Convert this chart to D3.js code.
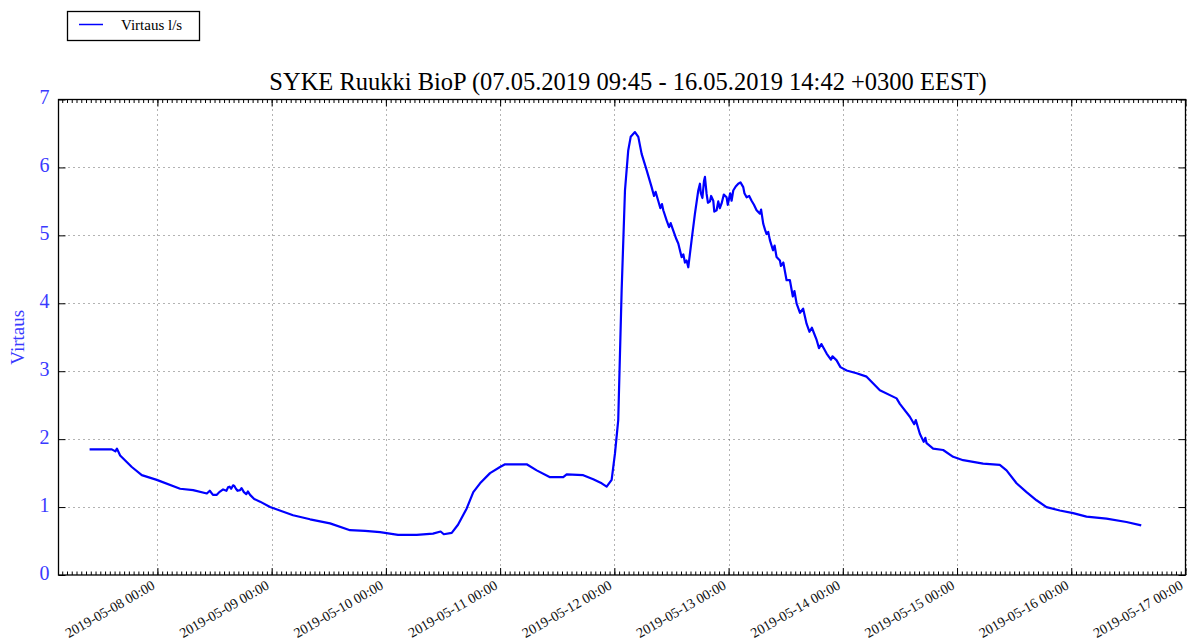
<!DOCTYPE html>
<html>
<head>
<meta charset="utf-8">
<script src="https://cdn.jsdelivr.net/npm/d3@7"></script>
<style>
  html, body { margin: 0; padding: 0; background: #fff; }
  svg { display: block; }
  text { font-family: "Liberation Serif", "DejaVu Serif", serif; }
</style>
</head>
<body>
<svg id="chart" width="1187" height="640"></svg>
<script>
// Flow measurements, SYKE Ruukki BioP station (local time, EEST)
const stamps = [
  "2019-05-07 09:45","2019-05-07 14:25","2019-05-07 15:10","2019-05-07 15:30","2019-05-07 16:10",
  "2019-05-07 18:37","2019-05-07 20:43","2019-05-07 23:52","2019-05-08 04:46","2019-05-08 07:30",
  "2019-05-08 10:23","2019-05-08 11:00","2019-05-08 11:40","2019-05-08 12:29","2019-05-08 13:00",
  "2019-05-08 13:48","2019-05-08 14:30","2019-05-08 14:50","2019-05-08 15:10","2019-05-08 15:30",
  "2019-05-08 15:54","2019-05-08 16:10","2019-05-08 16:30","2019-05-08 16:50","2019-05-08 17:22",
  "2019-05-08 17:40","2019-05-08 18:10","2019-05-08 18:40","2019-05-08 19:00","2019-05-08 19:28",
  "2019-05-08 20:20","2019-05-08 21:34","2019-05-08 23:40","2019-05-09 04:30","2019-05-09 08:04",
  "2019-05-09 12:16","2019-05-09 16:28","2019-05-09 19:37","2019-05-09 22:46","2019-05-10 02:33",
  "2019-05-10 06:29","2019-05-10 09:54","2019-05-10 11:30","2019-05-10 12:10","2019-05-10 13:50",
  "2019-05-10 15:09","2019-05-10 16:59","2019-05-10 18:22","2019-05-10 19:47","2019-05-10 21:53",
  "2019-05-10 23:59","2019-05-11 01:02","2019-05-11 05:35","2019-05-11 07:41","2019-05-11 10:29",
  "2019-05-11 13:16","2019-05-11 13:59","2019-05-11 17:28","2019-05-11 19:34","2019-05-11 21:20",
  "2019-05-11 22:23","2019-05-11 23:26","2019-05-12 00:08","2019-05-12 00:49","2019-05-12 01:32",
  "2019-05-12 02:14","2019-05-12 02:55","2019-05-12 03:26","2019-05-12 04:20","2019-05-12 05:02",
  "2019-05-12 05:44","2019-05-12 06:47","2019-05-12 07:50","2019-05-12 08:20","2019-05-12 08:40",
  "2019-05-12 09:13","2019-05-12 09:40","2019-05-12 10:00","2019-05-12 10:17","2019-05-12 10:59",
  "2019-05-12 11:30","2019-05-12 11:50","2019-05-12 12:23","2019-05-12 13:00","2019-05-12 13:26",
  "2019-05-12 14:08","2019-05-12 14:30","2019-05-12 14:50","2019-05-12 15:11","2019-05-12 15:32",
  "2019-05-12 16:14","2019-05-12 16:56","2019-05-12 17:38","2019-05-12 17:59","2019-05-12 18:10",
  "2019-05-12 18:30","2019-05-12 18:50","2019-05-12 19:02","2019-05-12 19:23","2019-05-12 19:40",
  "2019-05-12 20:05","2019-05-12 20:20","2019-05-12 20:47","2019-05-12 21:00","2019-05-12 21:29",
  "2019-05-12 21:50","2019-05-12 22:10","2019-05-12 22:32","2019-05-12 23:00","2019-05-12 23:35",
  "2019-05-12 23:50","2019-05-13 00:20","2019-05-13 00:38","2019-05-13 00:59","2019-05-13 01:30",
  "2019-05-13 02:02","2019-05-13 02:30","2019-05-13 03:05","2019-05-13 03:20","2019-05-13 03:47",
  "2019-05-13 04:20","2019-05-13 04:50","2019-05-13 05:20","2019-05-13 05:53","2019-05-13 06:35",
  "2019-05-13 06:50","2019-05-13 07:17","2019-05-13 07:40","2019-05-13 07:59","2019-05-13 08:20",
  "2019-05-13 08:41","2019-05-13 09:20","2019-05-13 09:40","2019-05-13 10:05","2019-05-13 10:47",
  "2019-05-13 11:00","2019-05-13 11:30","2019-05-13 12:11","2019-05-13 12:53","2019-05-13 13:30",
  "2019-05-13 13:50","2019-05-13 14:17","2019-05-13 15:00","2019-05-13 15:40","2019-05-13 16:23",
  "2019-05-13 17:00","2019-05-13 17:30","2019-05-13 18:30","2019-05-13 19:00","2019-05-13 19:30",
  "2019-05-13 20:36","2019-05-13 21:30","2019-05-13 21:50","2019-05-13 22:42","2019-05-13 23:30",
  "2019-05-14 00:48","2019-05-14 02:54","2019-05-14 05:00","2019-05-14 07:47","2019-05-14 11:18",
  "2019-05-14 11:59","2019-05-14 14:05","2019-05-14 15:00","2019-05-14 15:20","2019-05-14 16:11",
  "2019-05-14 17:00","2019-05-14 17:20","2019-05-14 17:36","2019-05-14 18:59","2019-05-14 21:05",
  "2019-05-14 23:11","2019-05-15 01:17","2019-05-15 05:29","2019-05-15 08:59","2019-05-15 10:24",
  "2019-05-15 12:30","2019-05-15 14:36","2019-05-15 16:42","2019-05-15 18:48","2019-05-15 21:35",
  "2019-05-16 00:23","2019-05-16 03:12","2019-05-16 07:24","2019-05-16 11:36","2019-05-16 14:42"
];
const flow = [
  1.85, 1.85, 1.82, 1.86, 1.76,
  1.59, 1.47, 1.40, 1.27, 1.25,
  1.20, 1.24, 1.18, 1.18, 1.22,
  1.26, 1.24, 1.29, 1.30, 1.27,
  1.32, 1.31, 1.27, 1.24, 1.25,
  1.28, 1.22, 1.19, 1.23, 1.18,
  1.12, 1.08, 1.00, 0.88, 0.82,
  0.76, 0.66, 0.65, 0.63, 0.59,
  0.59, 0.61, 0.64, 0.60, 0.62,
  0.74, 0.98, 1.22, 1.35, 1.50,
  1.59, 1.63, 1.63, 1.54, 1.44,
  1.44, 1.48, 1.47, 1.41, 1.35,
  1.30, 1.40, 1.79, 2.28, 4.19,
  5.66, 6.25, 6.45, 6.52, 6.45,
  6.20, 5.96, 5.71, 5.58, 5.64,
  5.51, 5.40, 5.46, 5.37, 5.22,
  5.12, 5.18, 5.07, 4.95, 4.88,
  4.68, 4.72, 4.60, 4.63, 4.53,
  4.93, 5.32, 5.66, 5.76, 5.62,
  5.55, 5.80, 5.86, 5.61, 5.48,
  5.50, 5.58, 5.51, 5.35, 5.37,
  5.50, 5.40, 5.47, 5.60, 5.56,
  5.45, 5.62, 5.51, 5.66, 5.72,
  5.76, 5.78, 5.71, 5.62, 5.56,
  5.58, 5.51, 5.45, 5.37, 5.32,
  5.38, 5.17, 5.08, 5.02, 5.05,
  4.93, 4.78, 4.85, 4.68, 4.63,
  4.55, 4.60, 4.34, 4.34, 4.10,
  4.18, 4.00, 3.86, 3.92, 3.70,
  3.58, 3.64, 3.46, 3.34, 3.40,
  3.26, 3.17, 3.22, 3.16, 3.06,
  3.01, 2.97, 2.92, 2.72, 2.60,
  2.52, 2.33, 2.22, 2.28, 2.08,
  1.96, 2.02, 1.94, 1.86, 1.84,
  1.74, 1.69, 1.64, 1.62, 1.54,
  1.35, 1.22, 1.10, 1.00, 0.95,
  0.91, 0.86, 0.83, 0.78, 0.73
];
const yTicks = [0, 1, 2, 3, 4, 5, 6, 7];
const titleText = "SYKE Ruukki BioP (07.05.2019 09:45 - 16.05.2019 14:42 +0300 EEST)";
const seriesName = "Virtaus l/s";
const yLabel = "Virtaus";

const parse = d3.timeParse("%Y-%m-%d %H:%M");
const data = stamps.map((s, i) => ({ t: parse(s), v: flow[i] }));

const svg = d3.select("#chart");
const plotLeft = 58.5, plotRight = 1185.5, plotTop = 99.5, plotBottom = 575;

const x = d3.scaleTime()
  .domain([parse("2019-05-07 03:13"), parse("2019-05-17 00:00")])
  .range([plotLeft, plotRight]);
const y = d3.scaleLinear().domain([0, 7]).range([plotBottom, plotTop]);

const blue = "#0000ff";
const labelBlue = "#3a3aff";

// dotted grid at day boundaries and integer flow values
const dayTicks = d3.timeDay.range(parse("2019-05-08 00:00"), parse("2019-05-17 00:01"));
const grid = svg.append("g").attr("stroke", "#666").attr("stroke-width", 1)
  .attr("stroke-dasharray", "1,4");
grid.selectAll("line.v").data(dayTicks).join("line").attr("class", "v")
  .attr("x1", d => Math.round(x(d)) + 0.5).attr("x2", d => Math.round(x(d)) + 0.5)
  .attr("y1", plotTop).attr("y2", plotBottom);
grid.selectAll("line.h").data(yTicks.slice(1, -1)).join("line").attr("class", "h")
  .attr("y1", d => Math.round(y(d)) + 0.5).attr("y2", d => Math.round(y(d)) + 0.5)
  .attr("x1", plotLeft).attr("x2", plotRight);

// series line
const line = d3.line().x(d => x(d.t)).y(d => y(d.v));
svg.append("path").datum(data)
  .attr("d", line)
  .attr("fill", "none")
  .attr("stroke", blue)
  .attr("stroke-width", 2.2)
  .attr("stroke-linejoin", "round");

// axes: ticks point inward, drawn on bottom and top
const hourTicks = d3.timeHour.range(x.domain()[0], x.domain()[1]);
const xBottom = d3.axisBottom(x).tickValues(dayTicks).tickSize(-7).tickFormat(d3.timeFormat("%Y-%m-%d %H:%M"));
const xBottomMinor = d3.axisBottom(x).tickValues(hourTicks).tickSize(-3.5).tickFormat("");
const xTopMinor = d3.axisTop(x).tickValues(hourTicks).tickSize(-3.5).tickFormat("");
const xTop = d3.axisTop(x).tickValues(dayTicks).tickSize(-7).tickFormat("");

function styleAxis(g) {
  g.select(".domain").remove();
  g.selectAll(".tick line").attr("stroke", "#000").attr("stroke-width", 1);
}

svg.append("g").attr("transform", `translate(0,${plotBottom})`).call(xBottomMinor).call(styleAxis);
svg.append("g").attr("transform", `translate(0,${plotTop})`).call(xTopMinor).call(styleAxis);
svg.append("g").attr("transform", `translate(0,${plotTop})`).call(xTop).call(styleAxis);
const gxb = svg.append("g").attr("transform", `translate(0,${plotBottom})`).call(xBottom).call(styleAxis);
gxb.selectAll(".tick text")
  .attr("font-family", "Liberation Serif, serif")
  .attr("font-size", 14)
  .attr("fill", "#111")
  .attr("text-anchor", "end")
  .attr("dy", null)
  .attr("y", 0)
  .attr("transform", "translate(-2,13) rotate(-30)");

const yAxis = d3.axisLeft(y).tickValues(yTicks).tickSize(-7).tickFormat(d3.format("d"));
const gy = svg.append("g").attr("transform", `translate(${plotLeft},0)`).call(yAxis).call(styleAxis);
gy.selectAll(".tick text")
  .attr("font-family", "Liberation Serif, serif")
  .attr("font-size", 20)
  .attr("fill", labelBlue)
  .attr("x", -9)
  .attr("dy", "0.2em");
const yRight = d3.axisRight(y).tickValues(yTicks).tickSize(-7).tickFormat("");
svg.append("g").attr("transform", `translate(${plotRight},0)`).call(yRight).call(styleAxis);

// frame
svg.append("rect").attr("x", plotLeft).attr("y", plotTop)
  .attr("width", plotRight - plotLeft).attr("height", plotBottom - plotTop)
  .attr("fill", "none").attr("stroke", "#000").attr("stroke-width", 1.3);

// y label
svg.append("text")
  .attr("transform", `translate(24,${(plotTop + plotBottom) / 2}) rotate(-90)`)
  .attr("text-anchor", "middle")
  .attr("font-size", 19)
  .attr("fill", labelBlue)
  .text(yLabel);

// title
svg.append("text")
  .attr("x", (plotLeft + plotRight) / 2 + 6).attr("y", 90)
  .attr("text-anchor", "middle")
  .attr("font-size", 24.5)
  .attr("fill", "#000")
  .text(titleText);

// legend
const lg = svg.append("g");
lg.append("rect").attr("x", 67.5).attr("y", 11.5).attr("width", 132).attr("height", 29)
  .attr("fill", "#fff").attr("stroke", "#000").attr("stroke-width", 1.3);
lg.append("line").attr("x1", 79).attr("x2", 103).attr("y1", 24.5).attr("y2", 24.5)
  .attr("stroke", blue).attr("stroke-width", 1.5);
lg.append("text").attr("x", 121).attr("y", 30).attr("font-size", 15).attr("fill", "#000")
  .text(seriesName);
</script>
</body>
</html>
